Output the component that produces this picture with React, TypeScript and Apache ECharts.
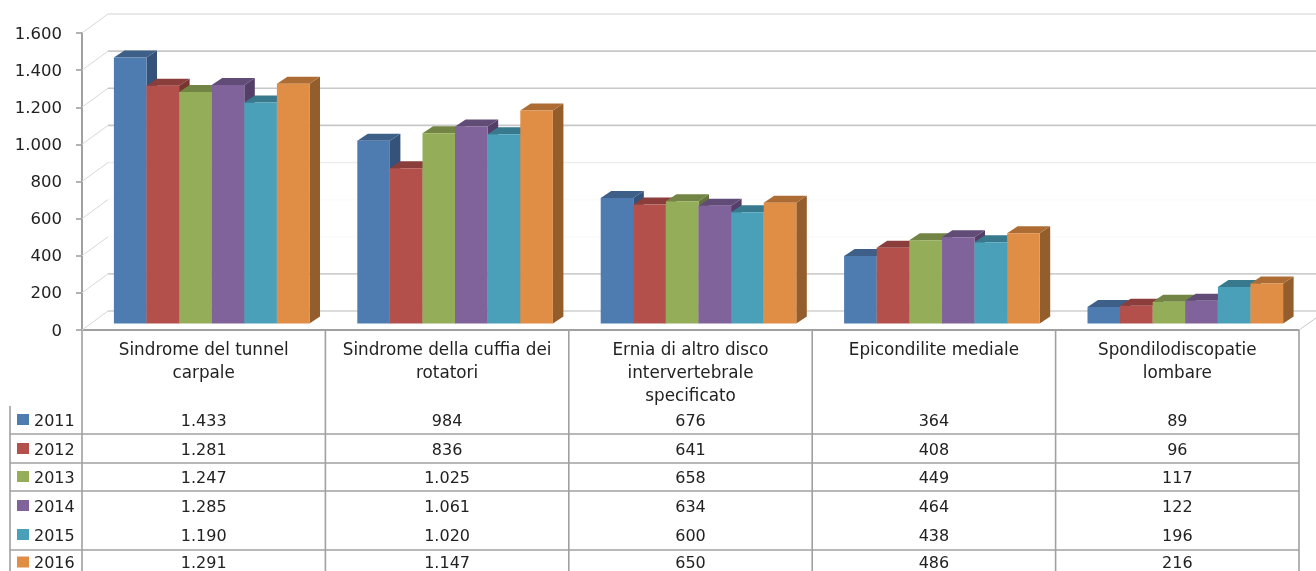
import React, { useEffect, useRef } from "react";
import * as echarts from "echarts";

const categories = [
  ["Sindrome del tunnel", "carpale"],
  ["Sindrome della cuffia dei", "rotatori"],
  ["Ernia di altro disco", "intervertebrale", "specificato"],
  ["Epicondilite mediale"],
  ["Spondilodiscopatie", "lombare"],
];
const years = ["2011", "2012", "2013", "2014", "2015", "2016"];
const s2011 = [1433, 984, 676, 364, 89];
const s2012 = [1281, 836, 641, 408, 96];
const s2013 = [1247, 1025, 658, 449, 117];
const s2014 = [1285, 1061, 634, 464, 122];
const s2015 = [1190, 1020, 600, 438, 196];
const s2016 = [1291, 1147, 650, 486, 216];
const seriesValues = [s2011, s2012, s2013, s2014, s2015, s2016];
const frontColors = ["#4f7cb0", "#b4504b", "#94ad59", "#80639b", "#4aa0b8", "#e08d45"];
const topColors = ["#3d5f88", "#8a3d3a", "#728545", "#614b77", "#38798d", "#ad6c34"];
const sideColors = ["#34527a", "#773431", "#62733b", "#543f68", "#306979", "#945d2c"];
const yTicks = [0, 200, 400, 600, 800, 1000, 1200, 1400, 1600];
const gridColors = ["#d0d0d0", "#cfcfcf", "#fbfbfb", "#fbfbfb", "#eeeeee", "#c8c8c8", "#c8c8c8", "#c8c8c8", "#e2e2e2"];

const L = 82, R = 1299, T = 33, B = 330;
const FONT = "'DejaVu Sans'";
const TEXT = "#222";
const LINE = "#a0a0a0";
const fmt = (v: number) => (v >= 1000 ? Math.floor(v / 1000) + "." + String(v % 1000).padStart(3, "0") : String(v));

export default function App() {
  const ref = useRef<HTMLDivElement>(null);
  useEffect(() => {
    document.body.style.margin = "0";
    const chart = echarts.init(ref.current!, null, { renderer: "svg" });
    const step = (R - L) / categories.length;
    const barW = 32.6;
    const rowY = [420, 449, 477, 506, 535, 562.5];
    const rowLines = [434, 463, 491, 550];
    const graphic: any[] = [];
    const ln = (x1: number, y1: number, x2: number, y2: number, stroke = LINE, lineWidth = 1.6) =>
      graphic.push({ type: "line", silent: true, shape: { x1, y1, x2, y2 }, style: { stroke, lineWidth } });
    for (let i = 1; i <= categories.length; i++) ln(L + step * i, B, L + step * i, 571);
    ln(L, B, L, 571);
    ln(10, 406, 10, 571);
    ln(R, B, 1316, 318, "#c8c8c8", 1);
    rowLines.forEach((y) => ln(10, y, R, y));
    ln(L, B, R, B, LINE, 2);
    categories.forEach((lines, c) => {
      lines.forEach((t, k) => {
        graphic.push({
          type: "text",
          x: L + step * (c + 0.5),
          y: 349 + k * 23,
          style: { text: t, font: `16.8px ${FONT}`, fill: TEXT, align: "center", verticalAlign: "middle" },
        });
      });
      seriesValues.forEach((vals, s) => {
        graphic.push({
          type: "text",
          x: L + step * (c + 0.5),
          y: rowY[s],
          style: { text: fmt(vals[c]), font: `16px ${FONT}`, fill: TEXT, align: "center", verticalAlign: "middle" },
        });
      });
    });
    years.forEach((y, s) => {
      graphic.push({ type: "rect", shape: { x: 17, y: rowY[s] - 6, width: 12, height: 11 }, style: { fill: frontColors[s] } });
      graphic.push({
        type: "text",
        x: 34,
        y: rowY[s],
        style: { text: y, font: `16px ${FONT}`, fill: TEXT, align: "left", verticalAlign: "middle" },
      });
    });

    const depthX = 26, depthY = 19;
    const wall = {
      type: "custom",
      coordinateSystem: "cartesian2d",
      silent: true,
      z: 1,
      data: yTicks.map((t, i) => [0, t, i]),
      renderItem: (_p: any, api: any) => {
        const y = api.coord([0, api.value(1)])[1];
        const i = api.value(2);
        const st = { stroke: gridColors[i], lineWidth: 1.6, fill: "none" };
        return {
          type: "group",
          children: [
            { type: "line", shape: { x1: L, y1: y, x2: L + depthX, y2: y - depthY }, style: { stroke: "#d8d8d8", lineWidth: 1 } },
            { type: "line", shape: { x1: L + depthX, y1: y - depthY, x2: 1316, y2: y - depthY }, style: st },
          ],
        };
      },
    };
    const bars = years.map((name, s) => ({
      type: "custom",
      name,
      coordinateSystem: "cartesian2d",
      silent: true,
      z: 2 + s,
      data: seriesValues[s].map((v, c) => [c, v]),
      renderItem: (_p: any, api: any) => {
        const cx = api.coord([api.value(0), 0])[0];
        const y0 = api.coord([0, 0])[1] - 6.5;
        const top = api.coord([0, api.value(1)])[1] - 6.5;
        const x = cx - 3 * barW + s * barW + 8;
        const w = barW, dx = 10.5, dy = 7;
        return {
          type: "group",
          children: [
            { type: "polygon", shape: { points: [[x + w, top], [x + w + dx, top - dy], [x + w + dx, y0 - dy], [x + w, y0]] }, style: { fill: sideColors[s] } },
            { type: "polygon", shape: { points: [[x, top], [x + dx, top - dy], [x + w + dx, top - dy], [x + w, top]] }, style: { fill: topColors[s] } },
            { type: "rect", shape: { x, y: top, width: w, height: y0 - top }, style: { fill: frontColors[s] } },
          ],
        };
      },
    }));

    chart.setOption({
      animation: false,
      backgroundColor: "#fff",
      grid: { left: L, right: 1316 - R, top: T, bottom: 571 - B },
      xAxis: {
        type: "category",
        data: categories.map((c) => c.join(" ")),
        axisLine: { show: false },
        axisTick: { show: false },
        axisLabel: { show: false },
      },
      yAxis: {
        type: "value",
        min: 0,
        max: 1600,
        interval: 200,
        axisLine: { show: true, lineStyle: { color: LINE, width: 2 } },
        axisTick: { show: true, length: 6, lineStyle: { color: LINE, width: 1.6 } },
        axisLabel: { fontFamily: FONT, fontSize: 16.5, color: TEXT, margin: 20, formatter: (v: number) => fmt(v) },
        splitLine: { show: false },
      },
      graphic,
      series: [wall, ...bars],
    });
    return () => chart.dispose();
  }, []);
  return <div ref={ref} style={{ width: 1316, height: 571, filter: "blur(0.7px)" }} />;
}
